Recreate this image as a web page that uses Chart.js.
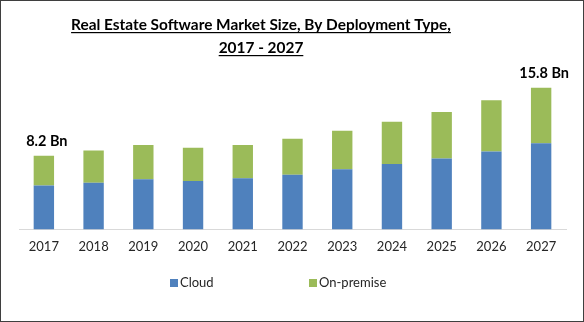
<!DOCTYPE html>
<html>
<head>
<meta charset="utf-8">
<script src="https://cdn.jsdelivr.net/npm/chart.js@4"></script>
<style>
  html, body { margin: 0; padding: 0; background: #fff; }
  #wrap { width: 584px; height: 322px; position: relative; }
</style>
</head>
<body>
<div id="wrap"><canvas id="chart" width="584" height="322"></canvas></div>
<script>
// Market size in USD billion, split by deployment type
const years = ['2017', '2018', '2019', '2020', '2021', '2022', '2023', '2024', '2025', '2026', '2027'];
const cloud = [4.9, 5.2, 5.6, 5.4, 5.7, 6.1, 6.7, 7.3, 7.9, 8.7, 9.6];
const onPremise = [3.3, 3.6, 3.8, 3.7, 3.7, 4.0, 4.3, 4.7, 5.2, 5.7, 6.2];
const titleLines = ['Real Estate Software Market Size, By Deployment Type,', '2017 - 2027'];
const labelledYears = [0, 10]; // bars that carry a total label

const FONT = 'Lato, "Open Sans", sans-serif';

// Underlined two-line heading plus outer frame
const headingPlugin = {
  id: 'heading',
  afterDraw(chart) {
    const ctx = chart.ctx;
    ctx.save();
    ctx.font = 'bold 15.4px ' + FONT;
    ctx.fillStyle = '#000';
    ctx.textAlign = 'center';
    ctx.textBaseline = 'alphabetic';
    const cx = 261;
    titleLines.forEach((line, i) => {
      const y = 30 + i * 23;
      ctx.fillText(line, cx, y);
      const w = ctx.measureText(line).width;
      ctx.fillRect(cx - w / 2, y + 2, w, 1.2);
    });
    ctx.strokeStyle = '#3f3f3f';
    ctx.lineWidth = 1;
    ctx.strokeRect(0.5, 0.5, chart.width - 1, chart.height - 1);
    ctx.restore();
  }
};

// Legend row under the axis, one entry per dataset
const keyPlugin = {
  id: 'key',
  afterDraw(chart) {
    const ctx = chart.ctx;
    const starts = [170, 309];
    ctx.save();
    ctx.font = '13px ' + FONT;
    ctx.textBaseline = 'middle';
    chart.data.datasets.forEach((ds, i) => {
      const x = starts[i];
      ctx.fillStyle = ds.backgroundColor;
      ctx.fillRect(x, 279, 8, 8);
      ctx.fillStyle = '#262626';
      ctx.fillText(ds.label, x + 10, 283);
    });
    ctx.restore();
  }
};

// Total value above the first and last bars
const totalsPlugin = {
  id: 'totals',
  afterDatasetsDraw(chart) {
    const ctx = chart.ctx;
    const top = chart.getDatasetMeta(1);
    ctx.save();
    ctx.font = 'bold 14.5px ' + FONT;
    ctx.fillStyle = '#000';
    ctx.textAlign = 'center';
    ctx.textBaseline = 'alphabetic';
    labelledYears.forEach(i => {
      const bar = top.data[i];
      const total = cloud[i] + onPremise[i];
      ctx.fillText(total.toFixed(1) + ' Bn', bar.x + 3, bar.y - 10);
    });
    ctx.restore();
  }
};

new Chart(document.getElementById('chart'), {
  type: 'bar',
  data: {
    labels: years,
    datasets: [
      { label: 'Cloud', data: cloud, backgroundColor: '#4f81bd' },
      { label: 'On-premise', data: onPremise, backgroundColor: '#9bbb59' }
    ]
  },
  options: {
    responsive: false,
    animation: false,
    layout: { padding: { top: 68, left: 19, right: 18, bottom: 65 } },
    datasets: { bar: { categoryPercentage: 1, barPercentage: 0.41 } },
    scales: {
      x: {
        stacked: true,
        grid: { display: false },
        border: { display: true, color: '#d9d9d9' },
        ticks: { color: '#262626', font: { family: FONT, size: 13 }, padding: 2 }
      },
      y: {
        stacked: true,
        display: false,
        min: 0,
        max: 18
      }
    },
    plugins: {
      legend: { display: false },
      tooltip: { enabled: false }
    }
  },
  plugins: [headingPlugin, keyPlugin, totalsPlugin]
});
</script>
</body>
</html>
